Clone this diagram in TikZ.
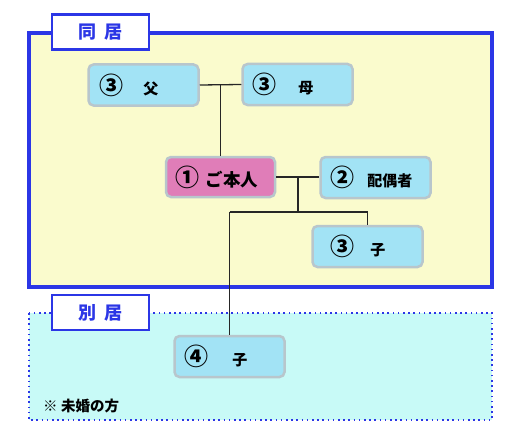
\documentclass[tikz,border=0pt]{standalone}
\usepackage{fontspec}
\newfontfamily\jp{Noto Sans CJK JP}
\definecolor{bblue}{HTML}{2B36E6}
\definecolor{yfill}{HTML}{FAFBCD}
\definecolor{cfill}{HTML}{C8FAF7}
\definecolor{nfill}{HTML}{A2E3F5}
\definecolor{nbord}{HTML}{B8C6CC}
\definecolor{pfill}{HTML}{E07DB8}
\tikzset{
  pbox/.style={draw=nbord, line width=2.5pt, fill=nfill, rounded corners=5pt, minimum width=110pt, minimum height=41pt, inner sep=0pt},
  hbox/.style={pbox, fill=pfill},
  lbox/.style={draw=bblue, line width=2.5pt, fill=white, minimum width=97pt, minimum height=35pt, inner sep=0pt, text=bblue, font=\jp\bfseries\fontsize{18pt}{20pt}\selectfont},
  ptext/.style={anchor=west, inner sep=0pt, font=\jp\bfseries\fontsize{15pt}{17pt}\selectfont},
  conn/.style={line width=1.3pt, black!85}
}
\newcommand{\cnum}[1]{{\jp\fontsize{24pt}{26pt}\selectfont #1}}
\begin{document}
\begin{tikzpicture}[x=1pt,y=-1pt]
\useasboundingbox (0,0) rectangle (518,441);
\fill[white] (0,0) rectangle (518,441);
% areas
\draw[bblue, fill=cfill, line width=2pt, dash pattern=on 1.6pt off 3.6pt] (29,313) rectangle (492,420);
\draw[bblue, line width=4.5pt, fill=yfill] (29,33) rectangle (492,287);
% persons
\node[pbox] (fu) at (143.5,85) {};
\node[pbox] (mo) at (297.5,84.5) {};
\node[hbox, minimum width=109pt, minimum height=40pt] (hon) at (220.5,177) {};
\node[pbox] (hai) at (375.5,177.5) {};
\node[pbox] (ko1) at (367.5,246.5) {};
\node[pbox] (ko2) at (229.5,356.5) {};
% labels inside
\node[ptext] (fut) at ([xshift=12pt]fu.west) {\cnum{③}\hspace{20pt}父};
\node[ptext] (mot) at ([xshift=11pt]mo.west) {\cnum{③}\hspace{22pt}母};
\node[ptext, font=\jp\bfseries\fontsize{17.5pt}{19pt}\selectfont] (hont) at ([xshift=11pt]hon.west) {\cnum{①}\hspace{6pt}ご本人};
\node[ptext] (hait) at ([xshift=11pt]hai.west) {\cnum{②}\hspace{13pt}配偶者};
\node[ptext] (ko1t) at ([xshift=19pt]ko1.west) {\cnum{③}\hspace{16pt}子};
\node[ptext] (ko2t) at ([xshift=11pt]ko2.west) {\cnum{④}\hspace{24pt}子};
% connectors
\draw[conn] (fu.east) -- (mo.west);
\draw[conn] (hon.north) -- (hon.north |- fu.east);
\draw[conn] (hon.east) -- (hon.east -| hai.west);
\coordinate (j2) at (298,177.5);
\coordinate (j3) at (298,212);
\draw[conn] (j2) -- (j3);
\draw[conn] (ko2.north |- j3) -- (ko1.north |- j3);
\draw[conn] (ko1.north |- j3) -- (ko1.north);
\draw[conn] (ko2.north |- j3) -- (ko2.north);
% area labels
\node[lbox] (doukyo) at (100.5,32) {同\hspace{0.45em}居};
\node[lbox] (bekkyo) at (100.5,312.5) {別\hspace{0.45em}居};
\node[ptext, font=\jp\bfseries\fontsize{14.5pt}{16pt}\selectfont] (note) at (43,406) {※ 未婚の方};
\end{tikzpicture}
\end{document}
